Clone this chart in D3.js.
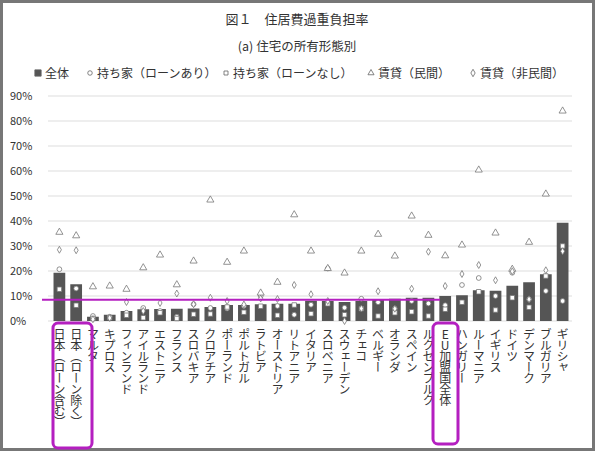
<!DOCTYPE html>
<html><head><meta charset="utf-8">
<script src="https://cdn.jsdelivr.net/npm/d3@7"></script>
<style>
body{margin:0;background:#fff;}
svg text{font-family:"Noto Sans CJK JP","Noto Sans",sans-serif;fill:#333;}
</style></head><body>
<svg id="c" width="595" height="451"></svg>
<script>
// data (percent)
var countries = ["日本（ローン含む）","日本（ローン除く）","マルタ","キプロス","フィンランド","アイルランド","エストニア","フランス","スロバキア","クロアチア","ポーランド","ポルトガル","ラトビア","オーストリア","リトアニア","イタリア","スロベニア","スウェーデン","チェコ","ベルギー","オランダ","スペイン","ルクセンブルク","EU加盟国全体","ハンガリー","ルーマニア","イギリス","ドイツ","デンマーク","ブルガリア","ギリシャ"];
var total    = [19.3,14.7,1.7,2.5,4.0,4.7,4.8,4.9,5.0,5.6,6.4,6.4,6.7,6.9,6.9,8.1,8.0,7.6,8.0,8.7,8.9,9.3,9.3,10.0,10.3,12.3,12.1,14.1,15.5,18.7,39.3];
var ownLoan  = [20.7,13.0,2.0,1.7,3.3,5.2,4.0,1.7,6.7,5.2,5.0,6.0,10.0,6.0,2.5,6.5,21.0,5.3,8.9,7.5,4.9,8.0,7.0,6.3,14.4,17.2,10.0,19.3,8.7,12.0,8.0];
var ownNoLoan= [12.7,6.3,1.0,1.3,2.3,1.3,3.3,1.0,2.7,2.8,5.6,3.5,5.9,2.3,6.4,2.9,6.9,2.5,4.9,2.0,3.3,3.7,2.0,4.7,7.5,11.7,4.4,9.3,5.5,18.0,30.0];
var rentPriv = [35.5,34.1,13.7,14.0,12.7,21.3,26.4,14.5,24.0,48.4,23.5,28.0,11.2,15.5,42.5,28.0,21.0,19.2,28.0,34.7,26.0,42.0,34.3,26.1,30.4,60.4,35.2,20.7,31.5,50.8,84.0];
var rentPub  = [28.5,28.3,0.7,1.2,7.6,4.0,7.2,11.0,6.7,9.3,8.0,6.6,9.0,8.8,14.4,10.7,8.0,0.0,5.0,11.9,4.9,12.9,27.7,14.0,18.8,22.4,16.3,19.9,8.7,20.3,27.9];
var yTicks = [0,10,20,30,40,50,60,70,80,90];
var refLine = 8.5;

var svg = d3.select("#c");
// frame
svg.append("rect").attr("x",1.5).attr("y",1.5).attr("width",592).attr("height",448)
    .attr("fill","none").attr("stroke","#777").attr("stroke-width",3);

svg.append("text").attr("x",297).attr("y",24).attr("text-anchor","middle")
    .attr("font-size",13).text("図１　住居費過重負担率");
svg.append("text").attr("x",297).attr("y",51).attr("text-anchor","middle")
    .attr("font-size",12.5).text("(a) 住宅の所有形態別");

var x = d3.scaleBand().domain(countries).range([51, 571]).paddingInner(0.3).paddingOuter(0.15);
var y = d3.scaleLinear().domain([0, 90]).range([321, 96]);

var g = svg.append("g");
g.selectAll("line.grid").data(yTicks).enter().append("line")
    .attr("x1",48).attr("x2",572)
    .attr("y1",function (d) { return y(d); }).attr("y2",function (d) { return y(d); })
    .attr("stroke","#ddd").attr("stroke-width",1);
g.selectAll("text.tick").data(yTicks).enter().append("text")
    .attr("x",10).attr("y",function (d) { return y(d) + 4; })
    .attr("font-size",11).text(function (d) { return d + "%"; });

g.selectAll("rect.bar").data(total).enter().append("rect")
    .attr("x",function (d, i) { return x(countries[i]); })
    .attr("width",x.bandwidth())
    .attr("y",function (d) { return y(d); })
    .attr("height",function (d) { return y(0) - y(d); })
    .attr("fill","#555");

function markers(data, shape, size) {
    g.selectAll(null).data(data).enter().append("path")
        .attr("d",d3.symbol().type(shape).size(size))
        .attr("transform",function (d, i) {
            return "translate(" + (x(countries[i]) + x.bandwidth() / 2) + "," + y(d) + ")";
        })
        .attr("fill","#fff").attr("stroke","#777").attr("stroke-width",0.8);
}
markers(ownLoan, d3.symbolCircle, 18);
markers(ownNoLoan, d3.symbolSquare, 20);
markers(rentPriv, d3.symbolTriangle, 22);
markers(rentPub, d3.symbolDiamond, 14);

// reference line
g.append("line").attr("x1",42).attr("x2",440)
    .attr("y1",y(refLine)).attr("y2",y(refLine))
    .attr("stroke","#b41fc0").attr("stroke-width",1.8);

// category labels (vertical)
g.selectAll("text.cat").data(countries).enter().append("text")
    .attr("x",function (d) { return x(d) + x.bandwidth() / 2; })
    .attr("y",328)
    .attr("font-size",12)
    .style("writing-mode","vertical-rl")
    .style("text-orientation","upright")
    .attr("letter-spacing",-1)
    .text(function (d) { return d; });

// highlight boxes
g.append("rect").attr("x",53).attr("y",323).attr("width",39).attr("height",125).attr("rx",5)
    .attr("fill","none").attr("stroke","#b41fc0").attr("stroke-width",3);
g.append("rect").attr("x",433).attr("y",323).attr("width",25).attr("height",121).attr("rx",5)
    .attr("fill","none").attr("stroke","#b41fc0").attr("stroke-width",3);

// legend
var legend = [
    {label:"全体", shape:d3.symbolSquare, fill:"#555", x:38},
    {label:"持ち家（ローンあり）", shape:d3.symbolCircle, fill:"#fff", x:90},
    {label:"持ち家（ローンなし）", shape:d3.symbolSquare, fill:"#fff", x:226},
    {label:"賃貸（民間）", shape:d3.symbolTriangle, fill:"#fff", x:371},
    {label:"賃貸（非民間）", shape:d3.symbolDiamond, fill:"#fff", x:473}
];
var lg = svg.selectAll("g.lg").data(legend).enter().append("g")
    .attr("transform",function (d) { return "translate(" + d.x + ",73)"; });
lg.append("path").attr("d",function (d) { return d3.symbol().type(d.shape).size(d.fill === "#555" ? 40 : 16)(); })
    .attr("fill",function (d) { return d.fill; }).attr("stroke","#666").attr("stroke-width",0.8);
lg.append("text").attr("x",7).attr("y",4.5).attr("font-size",12).text(function (d) { return d.label; });
</script>
</body></html>
